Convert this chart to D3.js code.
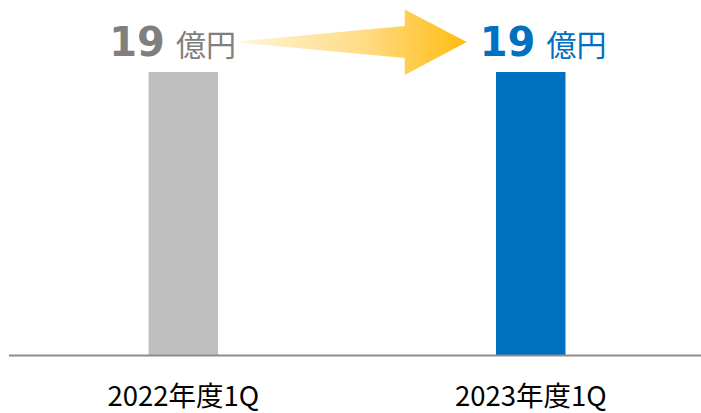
<!DOCTYPE html>
<html>
<head>
<meta charset="utf-8">
<script src="https://cdn.jsdelivr.net/npm/d3@7"></script>
<style>
  body { margin: 0; background: #fff; }
</style>
</head>
<body>
<div id="chart"></div>
<script>
const categories = ["2022年度1Q", "2023年度1Q"]
const values = [19, 19]
const valueLabels = ["19", "19"]
const unit = "億円"
const barColors = ["#BFBFBF", "#0070C0"]
const textColors = ["#7F7F7F", "#0070C0"]

const width = 701
const height = 413
const baseY = 355.5

const svg = d3.select("#chart")
    .append("svg")
    .attr("width", width)
    .attr("height", height)
    .attr("viewBox", [0, 0, width, height])

const x = d3.scaleBand()
    .domain(categories)
    .range([13, 701])
    .paddingInner(0.8)
    .paddingOuter(0.39)

const y = d3.scaleLinear()
    .domain([0, 19])
    .range([baseY, 72])

// gradient for arrow
const grad = svg.append("defs")
    .append("linearGradient")
    .attr("id", "arrowGrad")
    .attr("x1", "0%").attr("x2", "100%")
    .attr("y1", "0%").attr("y2", "0%")
grad.append("stop").attr("offset", "0%").attr("stop-color", "#FFF6DA")
grad.append("stop").attr("offset", "55%").attr("stop-color", "#FFDB85")
grad.append("stop").attr("offset", "100%").attr("stop-color", "#FFBC10")

svg.append("g")
  .selectAll("rect")
  .data(values)
  .join("rect")
    .attr("x", (d, i) => x(categories[i]))
    .attr("y", d => y(d))
    .attr("width", x.bandwidth())
    .attr("height", d => y(0) - y(d))
    .attr("fill", (d, i) => barColors[i])

// baseline
svg.append("line")
    .attr("x1", 9)
    .attr("x2", width)
    .attr("y1", y(0))
    .attr("y2", y(0))
    .attr("stroke", "#8C8C8C")
    .attr("stroke-width", 2)

// category labels
svg.append("g")
  .selectAll("text")
  .data(categories)
  .join("text")
    .attr("x", d => x(d) + x.bandwidth() / 2)
    .attr("y", 406)
    .attr("text-anchor", "middle")
    .attr("font-family", "'Noto Sans CJK JP', sans-serif")
    .attr("font-size", 27.5)
    .attr("fill", "#000")
    .text(d => d)

// value labels
const labelOffsets = [-74, -51]
const labels = svg.append("g")
  .selectAll("text")
  .data(valueLabels)
  .join("text")
    .attr("x", (d, i) => x(categories[i]) + x.bandwidth() / 2 + labelOffsets[i])
    .attr("y", 56)
    .attr("fill", (d, i) => textColors[i])
labels.append("tspan")
    .attr("font-family", "'DejaVu Sans', Verdana, sans-serif")
    .attr("font-weight", "bold")
    .attr("font-size", 40)
    .text(d => d)
labels.append("tspan")
    .attr("dx", 11)
    .attr("font-family", "'Noto Sans CJK JP', sans-serif")
    .attr("font-size", 30)
    .text(unit)

// arrow between the two labels
const ax0 = x(categories[0]) + x.bandwidth() / 2 + 54
const ax1 = x(categories[1]) + x.bandwidth() / 2 - 64
const headX = ax1 - 62
const ay = 42
svg.append("path")
    .attr("d", d3.line()([
        [ax0, ay - 0.5],
        [headX, ay - 16],
        [headX, ay - 32.5],
        [ax1, ay],
        [headX, ay + 33],
        [headX, ay + 16],
        [ax0, ay + 0.5]
    ]) + "Z")
    .attr("fill", "url(#arrowGrad)")
</script>
</body>
</html>
